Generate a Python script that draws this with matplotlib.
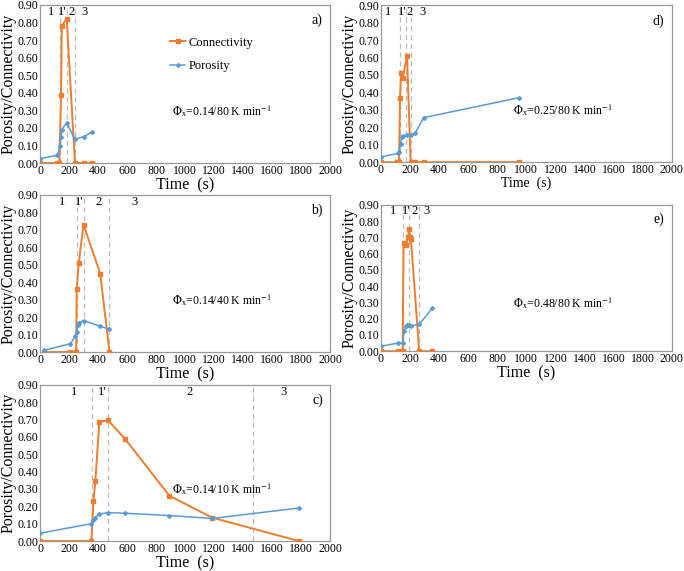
import matplotlib.pyplot as plt
import numpy as np

plt.rcParams['font.family'] = ['Liberation Serif', 'DejaVu Serif']
plt.rcParams['mathtext.fontset'] = 'stix'

ORANGE = '#ED7D31'
BLUE = '#5B9BD5'

# ---------------------------------- data ---------------------------------- #

# a) 0.14 / 80 K/min
a_t_con = [0, 115, 133, 145, 150, 184, 241, 301, 358]
a_con = [0, 0, 0, 0.385, 0.78, 0.82, 0, 0, 0]
a_t_por = [0, 120, 138, 145, 150, 184, 241, 301, 358]
a_por = [0.025, 0.044, 0.095, 0.15, 0.19, 0.23, 0.135, 0.15, 0.175]
a_lines = [140, 184, 239]
a_regions = [(74, '1'), (156, "1'"), (218, '2'), (310, '3')]

# d) 0.25 / 80 K/min
d_t_con = [0, 108, 124, 131, 138, 149, 179, 204, 234, 294, 952]
d_con = [0, 0, 0, 0.37, 0.51, 0.48, 0.61, 0, 0, 0, 0]
d_t_por = [0, 115, 124, 135, 142, 149, 179, 209, 234, 294, 952]
d_por = [0.03, 0.05, 0.06, 0.105, 0.145, 0.15, 0.155, 0.155, 0.165, 0.255, 0.37]
d_lines = [133, 172, 206]
d_regions = [(50, '1'), (149, "1'"), (197, '2'), (287, '3')]

# b) 0.14 / 40 K/min
b_t_con = [30, 210, 249, 253, 267, 300, 415, 479]
b_con = [0, 0, 0, 0.36, 0.51, 0.73, 0.45, 0]
b_t_por = [30, 210, 244, 253, 260, 272, 300, 415, 479]
b_por = [0.01, 0.048, 0.09, 0.115, 0.155, 0.167, 0.18, 0.148, 0.13]
b_lines = [253, 300, 479]
b_regions = [(150, '1'), (272, "1'"), (403, '2'), (652, '3')]

# e) 0.48 / 80 K/min
e_t_con = [0, 117, 149, 155, 166, 171, 185, 194, 200, 206, 263, 354]
e_con = [0, 0, 0, 0.667, 0.66, 0.655, 0.70, 0.75, 0.70, 0.69, 0, 0]
e_t_por = [0, 117, 149, 160, 171, 182, 194, 206, 263, 354]
e_por = [0.03, 0.05, 0.05, 0.125, 0.157, 0.16, 0.16, 0.157, 0.165, 0.265]
e_lines = [153, 192, 263]
e_regions = [(82, '1'), (174, "1'"), (231, '2'), (315, '3')]

# c) 0.14 / 10 K/min
c_t_con = [0, 354, 368, 382, 409, 469, 589, 892, 1186, 1784]
c_con = [0, 0, 0.228, 0.348, 0.687, 0.696, 0.586, 0.261, 0.135, 0]
c_t_por = [0, 354, 368, 382, 409, 469, 589, 892, 1186, 1784]
c_por = [0.045, 0.10, 0.12, 0.135, 0.155, 0.164, 0.16, 0.147, 0.13, 0.19]
c_lines = [359, 469, 1471]
c_regions = [(234, '1'), (432, "1'"), (1028, '2'), (1678, '3')]

panels = [
    ('a)', '0.14/80', [0.0585, 0.7145, 0.424, 0.277], a_t_con, a_con, a_t_por, a_por, a_lines, a_regions, 11.5),
    ('d)', '0.25/80', [0.557, 0.716, 0.425, 0.275], d_t_con, d_con, d_t_por, d_por, d_lines, d_regions, 10),
    ('b)', '0.14/40', [0.0585, 0.3835, 0.424, 0.275], b_t_con, b_con, b_t_por, b_por, b_lines, b_regions, 11.5),
    ('e)', '0.48/80', [0.557, 0.385, 0.425, 0.256], e_t_con, e_con, e_t_por, e_por, e_lines, e_regions, 11.5),
    ('c)', '0.14/10', [0.0585, 0.0525, 0.424, 0.2735], c_t_con, c_con, c_t_por, c_por, c_lines, c_regions, 11.5),
]

fig = plt.figure(figsize=(6.84, 5.71), dpi=100)

for letter, phi, rect, tc, con, tp, por, vlines, regions, xfs in panels:
    ax = fig.add_axes(rect)
    for x in vlines:
        ax.axvline(x, color='#BBBBBB', ls=(0, (4, 3)), lw=0.9, zorder=1)
    ax.plot(tc, con, color=ORANGE, marker='s', ms=3.2, lw=1.4, label='Connectivity', zorder=3)
    ax.plot(tp, por, color=BLUE, marker='D', ms=2, lw=1.1, label='Porosity', zorder=3)
    for x, s in regions:
        ax.text(x, 0.86, s, ha='center', va='center', fontsize=9)
    ax.text(0.975, 0.9, letter, transform=ax.transAxes, ha='right', va='center', fontsize=10)
    ax.text(0.455, 0.33, r'$\Phi_{\mathrm{x}}$=' + phi + r' K min$^{\mathrm{-1}}$',
            transform=ax.transAxes, ha='left', va='center', fontsize=8.5)
    ax.set_xlim(0, 2000)
    ax.set_ylim(0, 0.9)
    ax.set_xticks(np.arange(0, 2001, 200))
    ax.set_yticks(np.arange(0, 0.91, 0.1))
    ax.set_yticklabels([f'{v:.2f}' for v in np.arange(0, 0.91, 0.1)])
    ax.tick_params(length=0, labelsize=8.5, pad=1.5)
    for sp in ax.spines.values():
        sp.set_color('#999999')
        sp.set_linewidth(0.9)
    ax.set_xlabel('Time  (s)', fontsize=xfs, labelpad=0)
    ax.set_ylabel('Porosity/Connectivity', fontsize=11.5, labelpad=0.5)
    if letter == 'a)':
        ax.legend(loc='upper left', bbox_to_anchor=(0.41, 0.87), frameon=False,
                  fontsize=9, handlelength=1.2, labelspacing=0.9, handletextpad=0.3)

fig.savefig('out.png', dpi=100)
